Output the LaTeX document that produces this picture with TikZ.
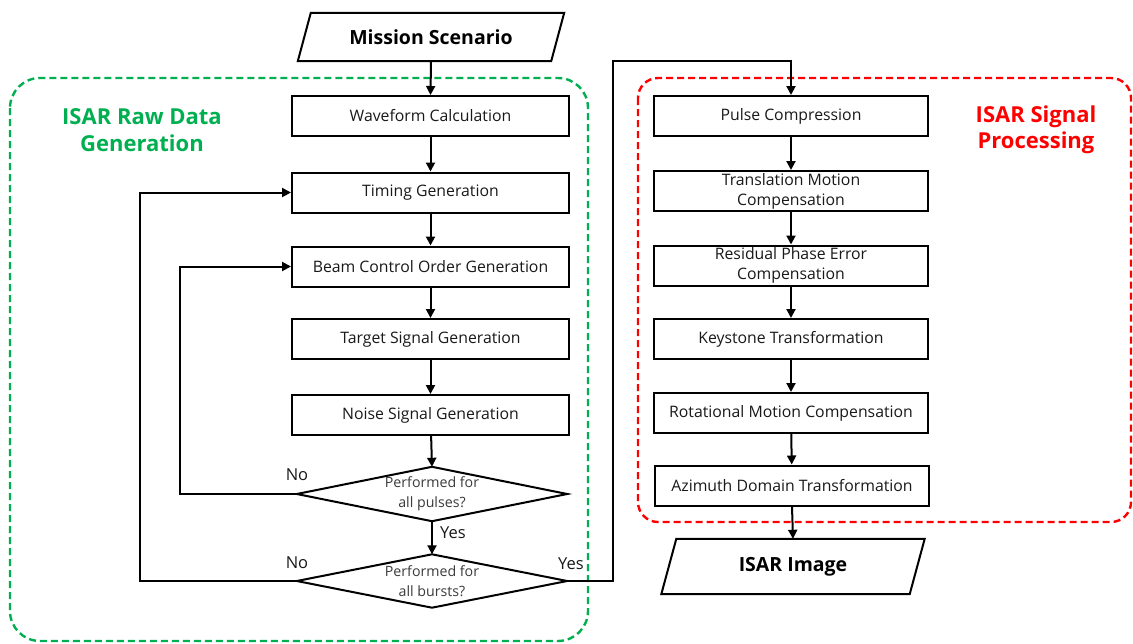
\documentclass[tikz,border=0pt]{standalone}
\usepackage{fontspec}
\setmainfont{Open Sans}
\usetikzlibrary{arrows.meta,calc}
\definecolor{grp}{RGB}{0,176,80}
\definecolor{rdp}{RGB}{255,0,0}
\definecolor{txt}{RGB}{25,25,25}
\tikzset{
  box/.style={draw, line width=2pt, minimum width=277pt, minimum height=40pt, inner sep=1pt, align=center, text=txt, font=\fontsize{15.8}{20}\selectfont},
  rbox/.style={box, minimum width=274pt},
  dtext/.style={minimum width=270pt, minimum height=54pt, inner sep=0pt, align=center, text=txt!85, font=\fontsize{14.2}{20}\selectfont},
  dshape/.style={draw, line width=2pt, line join=miter},
  ptext/.style={minimum width=266pt, minimum height=48pt, inner sep=0pt, font=\bfseries\fontsize{19.5}{22}\selectfont},
  arr/.style={draw, line width=2pt, -{Triangle[length=9pt,width=9pt]}},
  lbl/.style={font=\fontsize{16.5}{18}\selectfont, text=txt, inner sep=0pt},
  grpbox/.style={draw=grp, line width=2.4pt, dash pattern=on 7pt off 4pt, rounded corners=30pt},
  rdpbox/.style={draw=rdp, line width=2.4pt, dash pattern=on 7pt off 4pt, rounded corners=20pt},
  grplbl/.style={text=grp, align=center, font=\bfseries\fontsize{22}{26.5}\selectfont},
  rdplbl/.style={text=rdp, align=center, font=\bfseries\fontsize{22}{26.5}\selectfont},
}
\begin{document}
\begin{tikzpicture}[x=1pt,y=-1pt]
\useasboundingbox (0,0) rectangle (1133,643);
\fill[white] (0,0) rectangle (1133,643);

% group frames
\draw[grpbox] (10,78) rectangle (588,641);
\draw[rdpbox] (638,78) rectangle (1131,522);
\node[grplbl] (glbl) at (142,130) {ISAR Raw Data\\Generation};
\node[rdplbl] (rlbl) at (1036,130) {ISAR Signal\\Processing};

% left column
\node[ptext] (ms) at (431,37) {Mission Scenario};
\draw[line width=2pt] (ms.south west) -- ($(ms.north west)+(13,0)$) -- (ms.north east) -- ($(ms.south east)+(-13,0)$) -- cycle;

\node[box] (wf) at (430.5,116) {Waveform Calculation};
\node[box] (tg) at (430.5,192.5) {Timing Generation};
\node[box] (bc) at (430.5,266.5) {Beam Control Order Generation};
\node[box] (ts) at (430.5,339) {Target Signal Generation};
\node[box] (ns) at (430.5,415) {Noise Signal Generation};
\node[dtext] (d1) at (432,494) {Performed for\\all pulses?};
\draw[dshape] (d1.north) -- (d1.east) -- (d1.south) -- (d1.west) -- cycle;
\node[dtext, minimum height=53pt] (d2) at (432,581) {Performed for\\all bursts?};
\draw[dshape] (d2.north) -- (d2.east) -- (d2.south) -- (d2.west) -- cycle;

% right column
\node[rbox] (pc) at (791,116) {Pulse Compression};
\node[rbox] (tm) at (791,191) {Translation Motion\\Compensation};
\node[rbox] (rp) at (791,265.5) {Residual Phase Error\\Compensation};
\node[rbox] (ks) at (791,339) {Keystone Transformation};
\node[rbox] (rm) at (791,413) {Rotational Motion Compensation};
\node[rbox] (az) at (792,485.5) {Azimuth Domain Transformation};
\node[ptext, minimum width=263pt, minimum height=55pt] (im) at (793,566.5) {ISAR Image};
\draw[line width=2pt] (im.south west) -- ($(im.north west)+(15,0)$) -- (im.north east) -- ($(im.south east)+(-15,0)$) -- cycle;

% connectors
\draw[arr] (ms.south) -- (wf.north);
\draw[arr] (wf) -- (tg);
\draw[arr] (tg) -- (bc);
\draw[arr] (bc) -- (ts);
\draw[arr] (ts) -- (ns);
\draw[arr] (ns) -- (d1.north);
\draw[arr] (d1.south) -- (d2.north);
\draw[arr] (d1.west) -- ++(-117,0) |- (bc.west);
\draw[arr] (d2.west) -- ++(-157,0) |- (tg.west);
\coordinate (c1) at (613,61);
\coordinate (c2) at (pc.north |- c1);
\draw[arr] (d2.east) -| (c1) -- (c2) -- (pc.north);
\draw[arr] (pc) -- (tm);
\draw[arr] (tm) -- (rp);
\draw[arr] (rp) -- (ks);
\draw[arr] (ks) -- (rm);
\draw[arr] (rm) -- (az);
\draw[arr] (az.south) -- (im.north);

% labels
\node[lbl] (no1) at (297,475) {No};
\node[lbl] (no2) at (297,563) {No};
\node[lbl] (yes1) at (453,533) {Yes};
\node[lbl] (yes2) at (571,564) {Yes};
\end{tikzpicture}
\end{document}
